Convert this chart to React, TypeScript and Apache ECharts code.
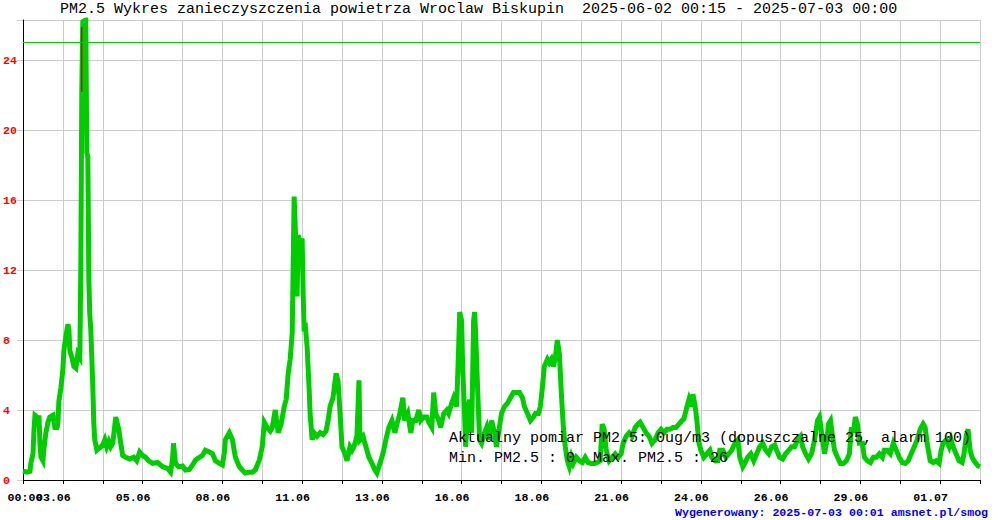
import React, { useEffect, useRef } from 'react';
import * as echarts from 'echarts';

// hours since 2025-06-02 00:15
const hours = [
  0, 3.1, 5.4, 6.2, 7.8, 8.5, 9.3, 10.9, 11.6, 12.4, 13.2, 14.0, 15.5, 16.3, 17.8, 19.4, 20.9, 23.3, 24.8, 26.4,
  27.1, 27.9, 29.5, 31.0, 31.8, 33.3, 34.9, 35.7, 36.4, 38.0, 39.5, 41.1, 42.6, 44.2, 45.0, 45.7, 46.5, 48.8, 49.6, 50.4,
  51.2, 51.9, 52.7, 53.5, 54.3, 55.0, 55.8, 57.4, 58.9, 60.5, 62.0, 63.6, 65.1, 66.7, 68.2, 69.8, 72.1, 74.4, 76.0, 77.5,
  79.8, 82.9, 86.0, 88.4, 90.7, 93.0, 95.3, 97.7, 100.8, 104.6, 108.5, 112.4, 114.7, 116.3, 117.0, 118.6, 120.9, 124.0, 126.3, 129.4,
  131.8, 134.1, 137.2, 139.5, 141.8, 144.9, 147.3, 149.6, 152.7, 155.0, 156.6, 157.3, 160.4, 162.8, 165.1, 168.2, 170.5, 172.8, 175.9, 178.3,
  180.6, 183.7, 186.0, 187.6, 189.9, 192.2, 193.8, 196.1, 198.4, 200.7, 203.1, 204.6, 206.2, 207.7, 209.3, 210.8, 212.4, 213.1, 213.9, 215.5,
  217.0, 217.8, 218.6, 219.3, 220.9, 222.4, 223.2, 224.8, 226.3, 228.6, 231.0, 233.3, 235.6, 237.2, 238.7, 241.0, 243.4, 244.9, 246.5, 248.0,
  250.3, 251.9, 254.2, 255.8, 257.3, 259.6, 261.2, 262.0, 264.3, 266.6, 268.9, 271.3, 273.6, 275.1, 277.5, 279.8, 282.1, 284.4, 286.8, 289.1,
  291.4, 293.0, 295.3, 296.8, 299.2, 301.5, 303.0, 305.4, 307.7, 309.2, 311.6, 313.9, 315.4, 317.8, 319.3, 320.9, 323.2, 324.7, 327.1, 329.4,
  330.9, 333.3, 334.8, 337.1, 338.7, 339.5, 341.0, 341.8, 343.3, 344.1, 345.7, 347.2, 348.8, 350.3, 351.1, 351.9, 353.4, 355.0, 356.5, 358.8,
  360.4, 361.9, 364.3, 366.6, 368.1, 369.7, 372.0, 374.3, 376.7, 379.0, 381.3, 383.6, 386.0, 388.3, 389.8, 392.2, 394.5, 396.8, 398.4, 400.7,
  402.2, 403.8, 405.3, 407.7, 409.2, 410.8, 412.3, 413.9, 415.4, 417.0, 418.5, 420.1, 421.6, 423.2, 424.7, 426.3, 427.8, 430.1, 432.5, 434.8,
  437.1, 439.4, 441.8, 444.1, 446.4, 448.7, 450.3, 451.8, 453.4, 455.7, 458.0, 460.4, 462.7, 465.0, 466.6, 468.9, 471.2, 473.5, 475.9, 478.2,
  479.7, 482.1, 484.4, 486.7, 489.0, 491.4, 493.7, 496.0, 498.3, 500.7, 503.0, 505.3, 507.6, 510.0, 512.3, 513.8, 516.2, 517.7, 519.3, 520.8,
  522.4, 523.9, 525.5, 527.0, 529.3, 531.7, 534.0, 535.5, 537.9, 540.2, 541.7, 544.1, 546.4, 548.7, 551.0, 553.4, 555.7, 557.2, 559.6, 561.1,
  563.4, 565.8, 568.1, 570.4, 572.7, 575.1, 577.4, 579.7, 582.0, 584.4, 585.9, 588.2, 590.6, 592.9, 595.2, 597.5, 599.9, 602.2, 604.5, 606.1,
  608.4, 610.7, 613.0, 615.4, 617.7, 619.2, 621.6, 623.1, 624.7, 626.2, 627.8, 629.3, 630.9, 633.2, 635.5, 637.8, 640.2, 642.5, 644.0, 645.6,
  647.1, 648.7, 650.2, 652.6, 654.1, 656.4, 658.8, 661.1, 663.4, 665.7, 668.1, 669.6, 671.9, 674.3, 676.6, 678.9, 681.2, 683.6, 685.9, 688.2,
  690.5, 692.9, 695.2, 697.5, 699.8, 701.4, 702.9, 705.3, 707.6, 709.9, 712.2, 713.8, 715.3, 717.7, 720.0, 721.5, 723.1, 725.4, 727.7, 730.1,
  731.6, 733.2, 734.7, 736.3, 737.8, 739.4, 740.9, 742.5, 744.0,
];

const pm25 = [
  0.5, 0.45, 0.5, 1.0, 1.5, 2.8, 3.7, 3.6, 3.2, 3.7, 2.0, 1.3, 1.1, 1.8, 2.7, 3.3, 3.6, 3.7, 3.0, 3.0,
  3.2, 4.5, 5.3, 6.3, 7.4, 8.2, 8.9, 8.6, 7.4, 7.0, 6.5, 6.4, 7.2, 7.0, 12.5, 22.2, 26.2, 26.3, 18.7, 18.5,
  11.4, 9.5, 8.6, 7.0, 5.3, 3.3, 2.3, 1.7, 1.8, 1.9, 2.0, 2.3, 1.9, 2.2, 1.9, 2.1, 3.6, 2.9, 2.1, 1.4,
  1.3, 1.2, 1.3, 1.1, 1.6, 1.4, 1.3, 1.1, 0.95, 1.0, 0.76, 0.66, 0.45, 1.2, 2.1, 0.95, 0.76, 0.8, 0.57, 0.6,
  0.86, 1.14, 1.3, 1.4, 1.7, 1.6, 1.5, 1.1, 0.95, 0.86, 1.6, 2.3, 2.7, 2.3, 1.3, 0.76, 0.57, 0.4, 0.45, 0.45,
  0.57, 1.14, 1.9, 3.3, 3.0, 2.8, 3.0, 4.0, 2.7, 3.2, 4.2, 4.6, 6.1, 6.9, 8.4, 16.2, 13.0, 10.5, 14.0, 13.5,
  13.8, 10.7, 8.5, 9.0, 7.6, 5.3, 3.8, 2.3, 2.7, 2.5, 2.7, 2.6, 2.8, 3.4, 4.2, 4.7, 6.1, 5.7, 3.8, 1.9,
  1.5, 1.1, 1.9, 1.7, 1.9, 2.5, 5.7, 2.3, 2.5, 1.9, 1.3, 0.95, 0.57, 0.4, 0.95, 1.5, 2.3, 3.0, 3.4, 2.7,
  3.4, 3.8, 4.7, 3.4, 3.8, 2.7, 3.4, 3.4, 4.0, 3.4, 3.6, 3.6, 3.3, 3.0, 5.0, 3.8, 3.4, 3.0, 3.8, 4.0,
  3.8, 4.4, 4.7, 4.2, 7.6, 9.6, 9.1, 6.5, 3.8, 1.9, 3.8, 4.6, 2.7, 9.1, 9.6, 8.4, 5.3, 2.3, 2.1, 2.7,
  3.0, 2.3, 3.4, 2.7, 1.9, 2.7, 3.8, 4.2, 4.4, 4.7, 5.0, 5.0, 5.0, 4.7, 4.2, 3.8, 3.4, 3.6, 3.8, 3.8,
  4.2, 5.3, 6.5, 6.9, 6.7, 6.9, 6.5, 7.0, 8.0, 7.2, 5.0, 3.0, 1.9, 1.1, 0.76, 1.3, 0.95, 1.3, 1.1, 1.0,
  1.3, 1.0, 0.95, 0.95, 1.0, 1.1, 3.2, 2.9, 1.7, 1.1, 1.3, 1.5, 1.3, 1.5, 2.1, 2.5, 2.7, 2.5, 3.0, 3.2,
  3.3, 3.0, 2.7, 2.5, 2.1, 2.3, 2.7, 2.9, 2.7, 2.9, 2.9, 3.0, 3.0, 3.2, 3.4, 3.5, 4.2, 4.6, 4.2, 4.9,
  4.3, 3.4, 2.1, 1.7, 1.3, 1.5, 1.7, 1.3, 1.1, 1.1, 1.7, 1.7, 1.3, 1.5, 1.7, 2.1, 2.3, 1.3, 0.76, 0.95,
  1.3, 1.5, 1.1, 1.5, 1.9, 2.1, 1.7, 1.5, 1.9, 2.0, 1.7, 1.3, 1.2, 1.5, 1.7, 1.9, 1.9, 2.3, 2.5, 1.9,
  1.5, 1.2, 1.5, 2.3, 3.4, 3.6, 2.3, 1.5, 2.1, 3.2, 3.4, 2.5, 1.7, 1.3, 0.95, 0.95, 1.1, 1.5, 3.0, 2.7,
  3.6, 3.2, 2.1, 2.1, 1.3, 1.1, 1.0, 1.3, 1.3, 1.5, 1.3, 1.7, 1.7, 1.5, 2.1, 1.7, 1.3, 1.0, 0.95, 1.1,
  1.5, 1.9, 2.3, 2.9, 3.2, 3.0, 2.1, 1.1, 1.0, 1.1, 0.95, 1.7, 2.1, 2.3, 1.9, 2.3, 1.9, 1.5, 1.1, 1.0,
  1.5, 2.5, 2.9, 1.7, 1.3, 1.1, 0.95, 0.8, 0.76,
];

// thin red trace visible next to the main peak
const redHours = [45.6, 45.6];
const redValues = [25.9, 22.2];

const xTickLabels = [
  '', '03.06', '', '05.06', '', '08.06', '', '11.06', '', '13.06', '', '16.06', '',
  '18.06', '', '21.06', '', '24.06', '', '26.06', '', '29.06', '', '01.07', '',
];
const xStartLabel = '00:00';
const yTickValues = [0, 4, 8, 12, 16, 20, 24];
const limitValue = 25;

const titleText = 'PM2.5 Wykres zanieczyszczenia powietrza Wroclaw Biskupin  2025-06-02 00:15 - 2025-07-03 00:00';
const infoLine1 = 'Aktualny pomiar PM2.5: 0ug/m3 (dopuszczalne 25, alarm 100)';
const infoLine2 = 'Min. PM2.5 : 0  Max. PM2.5 : 26';
const footerText = 'Wygenerowany: 2025-07-03 00:01 amsnet.pl/smog';

const MONO = '"Liberation Mono", "DejaVu Sans Mono", monospace';

export default function App() {
  const ref = useRef<HTMLDivElement>(null);
  useEffect(() => {
    if (!ref.current) return;
    const chart = echarts.init(ref.current, undefined, { renderer: 'svg' });
    const data = hours.map((h, i) => [h, pm25[i]]);
    const red = redHours.map((h, i) => [h, redValues[i]]);
    const labelFont = { fontFamily: MONO, fontWeight: 'bold' as const, fontSize: 11.6, color: '#000000' };
    chart.setOption({
      animation: false,
      backgroundColor: '#ffffff',
      grid: { left: 20, right: 20, top: 20, bottom: 40, containLabel: false },
      xAxis: [
        {
          type: 'value',
          min: 0,
          max: 744,
          interval: 31,
          axisLine: { show: true, onZero: false, lineStyle: { color: '#000000', width: 1 } },
          axisTick: { show: true, length: 4, lineStyle: { color: '#000000', width: 1 } },
          splitLine: { show: true, lineStyle: { color: '#cccccc', width: 1 } },
          axisLabel: {
            show: true,
            margin: 11,
            ...labelFont,
            formatter: (v: number) => {
              const t = xTickLabels[Math.round(v / 31)];
              return t ? `{d|${t}}` : '';
            },
            rich: { d: { ...labelFont, padding: [0, 19, 0, 0] } },
          },
        },
        {
          type: 'value',
          position: 'bottom',
          min: 0,
          max: 744,
          interval: 31,
          axisLine: { show: false },
          axisTick: { show: false },
          splitLine: { show: false },
          axisLabel: {
            show: true,
            margin: 11,
            ...labelFont,
            formatter: (v: number) => (v === 0 ? `{s|${xStartLabel}}` : ''),
            rich: { s: { ...labelFont, padding: [0, 0, 0, 4] } },
          },
        },
      ],
      yAxis: {
        type: 'value',
        min: 0,
        max: 26.3,
        interval: 4,
        axisLine: { show: true, lineStyle: { color: '#000000', width: 1 } },
        axisTick: { show: true, length: 6, lineStyle: { color: '#cccccc', width: 1 } },
        splitLine: { show: true, lineStyle: { color: '#cccccc', width: 1 } },
        axisLabel: {
          show: true,
          align: 'left',
          margin: 20,
          fontFamily: MONO,
          fontWeight: 'bold',
          fontSize: 11.6,
          color: '#ff0000',
          formatter: (v: number) => (yTickValues.includes(v) ? String(v) : ''),
        },
      },
      series: [
        {
          type: 'line',
          xAxisIndex: 0,
          data,
          symbol: 'none',
          showSymbol: false,
          z: 2,
          lineStyle: { color: '#00cc00', width: 5, join: 'miter' },
          markLine: {
            silent: true,
            symbol: ['none', 'none'],
            label: { show: false },
            lineStyle: { color: '#00cc00', width: 1, type: 'solid' },
            data: [{ yAxis: limitValue }],
          },
        },
        {
          type: 'line',
          xAxisIndex: 0,
          data: red,
          symbol: 'none',
          showSymbol: false,
          z: 3,
          lineStyle: { color: '#dd0000', width: 1.5 },
        },
      ],
      graphic: [
        {
          type: 'text',
          x: 60,
          y: 9,
          style: { text: titleText, fontFamily: MONO, fontSize: 15, fill: '#000000', verticalAlign: 'middle', align: 'left' },
        },
        {
          type: 'text',
          x: 449,
          y: 438,
          z: 10,
          style: { text: infoLine1, fontFamily: MONO, fontSize: 15, fill: '#000000', verticalAlign: 'middle', align: 'left' },
        },
        {
          type: 'text',
          x: 449,
          y: 458,
          z: 10,
          style: { text: infoLine2, fontFamily: MONO, fontSize: 15, fill: '#000000', verticalAlign: 'middle', align: 'left' },
        },
        {
          type: 'text',
          x: 675,
          y: 512,
          style: { text: footerText, fontFamily: MONO, fontSize: 11.6, fontWeight: 'bold', fill: '#0000ff', verticalAlign: 'middle', align: 'left' },
        },
      ],
    });
    return () => chart.dispose();
  }, []);
  return (
    <div
      ref={ref}
      style={{ position: 'fixed', left: 0, top: 0, width: 1000, height: 520, background: '#ffffff' }}
    />
  );
}
